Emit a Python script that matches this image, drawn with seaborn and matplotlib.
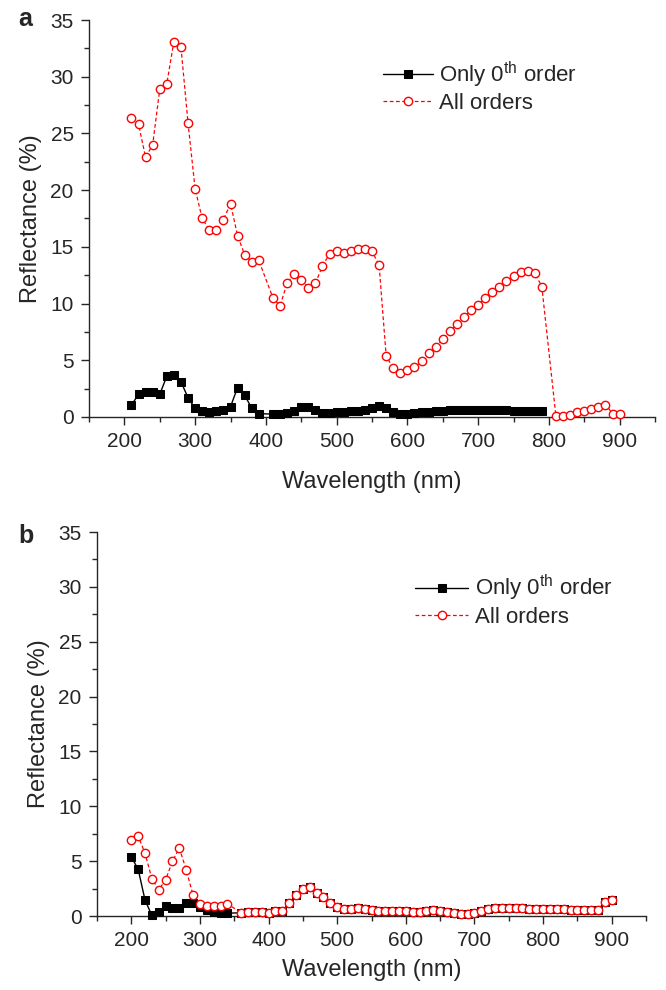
import numpy as np
import matplotlib
matplotlib.use("Agg")
import matplotlib.pyplot as plt
import seaborn as sns
from matplotlib.ticker import MultipleLocator

# ---- panel a data ----
a_wl_zero = list(range(210, 400, 10)) + list(range(410, 800, 10))
a_zero = [1.05, 2.0, 2.2, 2.2, 2.0, 3.6, 3.7, 3.1, 1.7, 0.75, 0.5, 0.4, 0.5, 0.6, 0.9, 2.6, 1.9, 0.8, 0.3,
          0.25, 0.3, 0.35, 0.5, 0.9, 0.85, 0.6, 0.35, 0.35, 0.4, 0.45, 0.5, 0.55, 0.65, 0.8, 0.95,
          0.8, 0.4, 0.3, 0.3, 0.35, 0.4, 0.45, 0.5, 0.55, 0.6, 0.63, 0.65, 0.66, 0.66, 0.65, 0.63,
          0.6, 0.58, 0.56, 0.55, 0.53, 0.52, 0.5]

a_wl_all = list(range(210, 400, 10)) + list(range(410, 800, 10)) + list(range(810, 910, 10))
a_all = [26.4, 25.8, 22.9, 24.0, 28.9, 29.4, 33.1, 32.6, 25.9, 20.1, 17.5, 16.5, 16.5, 17.4, 18.8,
         16.0, 14.3, 13.7, 13.8,
         10.5, 9.8, 11.8, 12.6, 12.1, 11.4, 11.8, 13.3, 14.4, 14.6, 14.5, 14.6, 14.8, 14.8, 14.6,
         13.4, 5.4, 4.3, 3.9, 4.1, 4.4, 4.9, 5.6, 6.2, 6.9, 7.6, 8.2, 8.8, 9.4, 9.9, 10.5, 11.0,
         11.5, 12.0, 12.4, 12.8, 12.9, 12.7, 11.5,
         0.06, 0.06, 0.2, 0.4, 0.5, 0.7, 0.9, 1.1, 0.3, 0.3]

# ---- panel b data ----
b_wl_head = list(range(200, 350, 10))
b_wl_tail = list(range(360, 910, 10))
b_zero_head = [5.4, 4.25, 1.45, 0.05, 0.35, 0.95, 0.7, 0.7, 1.15, 1.2, 0.8, 0.55, 0.4, 0.3, 0.25]
b_all_head = [6.9, 7.3, 5.7, 3.4, 2.4, 3.3, 5.0, 6.2, 4.2, 1.9, 1.1, 0.9, 0.9, 0.95, 1.1]
# above 350 nm both curves coincide
b_tail = [0.3, 0.4, 0.4, 0.35, 0.25, 0.45, 0.45, 1.15, 1.9, 2.5, 2.6, 2.1, 1.7, 1.2, 0.85, 0.6,
          0.64, 0.7, 0.64, 0.55, 0.5, 0.5, 0.5, 0.5, 0.46, 0.36, 0.4, 0.5, 0.55, 0.5, 0.4, 0.24,
          0.18, 0.15, 0.3, 0.5, 0.6, 0.7, 0.7, 0.72, 0.72, 0.7, 0.68, 0.65, 0.62, 0.6, 0.6, 0.6,
          0.58, 0.58, 0.58, 0.58, 0.58, 1.25, 1.5]

sns.set_style("ticks")
plt.rcParams['font.family'] = ['Liberation Sans', 'DejaVu Sans']
plt.rcParams['mathtext.fontset'] = 'custom'
plt.rcParams['mathtext.rm'] = 'Liberation Sans'

fig = plt.figure(figsize=(6.66, 9.9), dpi=100)
ax1 = fig.add_axes([89/666, 1 - 417/990, 566/666, 397/990])
ax2 = fig.add_axes([97/666, 1 - 916/990, 549/666, 384/990])

zero_label = "Only 0$^{\\mathrm{th}}$ order"


def draw(ax, wl0, v0, wl1, v1, legend_anchor, hlen, xpad):
    sns.lineplot(x=wl0, y=v0, ax=ax, color="black", marker="s", markersize=5.8,
                 markeredgecolor="black", linewidth=1, label=zero_label, clip_on=False,
                 zorder=3)
    sns.lineplot(x=wl1, y=v1, ax=ax, color="red", marker="o", markersize=6,
                 markerfacecolor="white", markeredgecolor="red", markeredgewidth=1,
                 linewidth=0.9, linestyle=(0, (3, 2)), label="All orders", clip_on=False,
                 zorder=4)
    ax.set_xlim(150, 950)
    ax.set_ylim(0, 35)
    ax.xaxis.set_major_locator(MultipleLocator(100))
    ax.xaxis.set_minor_locator(MultipleLocator(50))
    ax.yaxis.set_major_locator(MultipleLocator(5))
    ax.yaxis.set_minor_locator(MultipleLocator(2.5))
    ax.set_xticks(range(200, 1000, 100))
    ax.tick_params(which="major", direction="out", length=6, width=1, labelsize=15, pad=5)
    ax.tick_params(which="minor", direction="out", length=3.5, width=1)
    sns.despine(ax=ax)
    for s in ("left", "bottom"):
        ax.spines[s].set_linewidth(1)
    ax.set_xlabel("Wavelength (nm)", fontsize=17, labelpad=xpad)
    ax.set_ylabel("Reflectance (%)", fontsize=17, labelpad=6)
    ax.legend(frameon=False, loc="upper left", bbox_to_anchor=legend_anchor, fontsize=16,
              handlelength=hlen, handletextpad=0.3, labelspacing=0.15, borderaxespad=0,
              borderpad=0)


draw(ax1, a_wl_zero, a_zero, a_wl_all, a_all, (0.519, 0.90), 2.25, 14)
draw(ax2, b_wl_head + b_wl_tail, b_zero_head + b_tail,
     b_wl_head + b_wl_tail, b_all_head + b_tail, (0.579, 0.893), 2.4, 6)

fig.text(18/666, 1 - 19/990, "a", fontsize=18, fontweight="bold", va="center", ha="left")
fig.text(18/666, 1 - 536/990, "b", fontsize=18, fontweight="bold", va="center", ha="left")

fig.savefig("out.png", dpi=100)
